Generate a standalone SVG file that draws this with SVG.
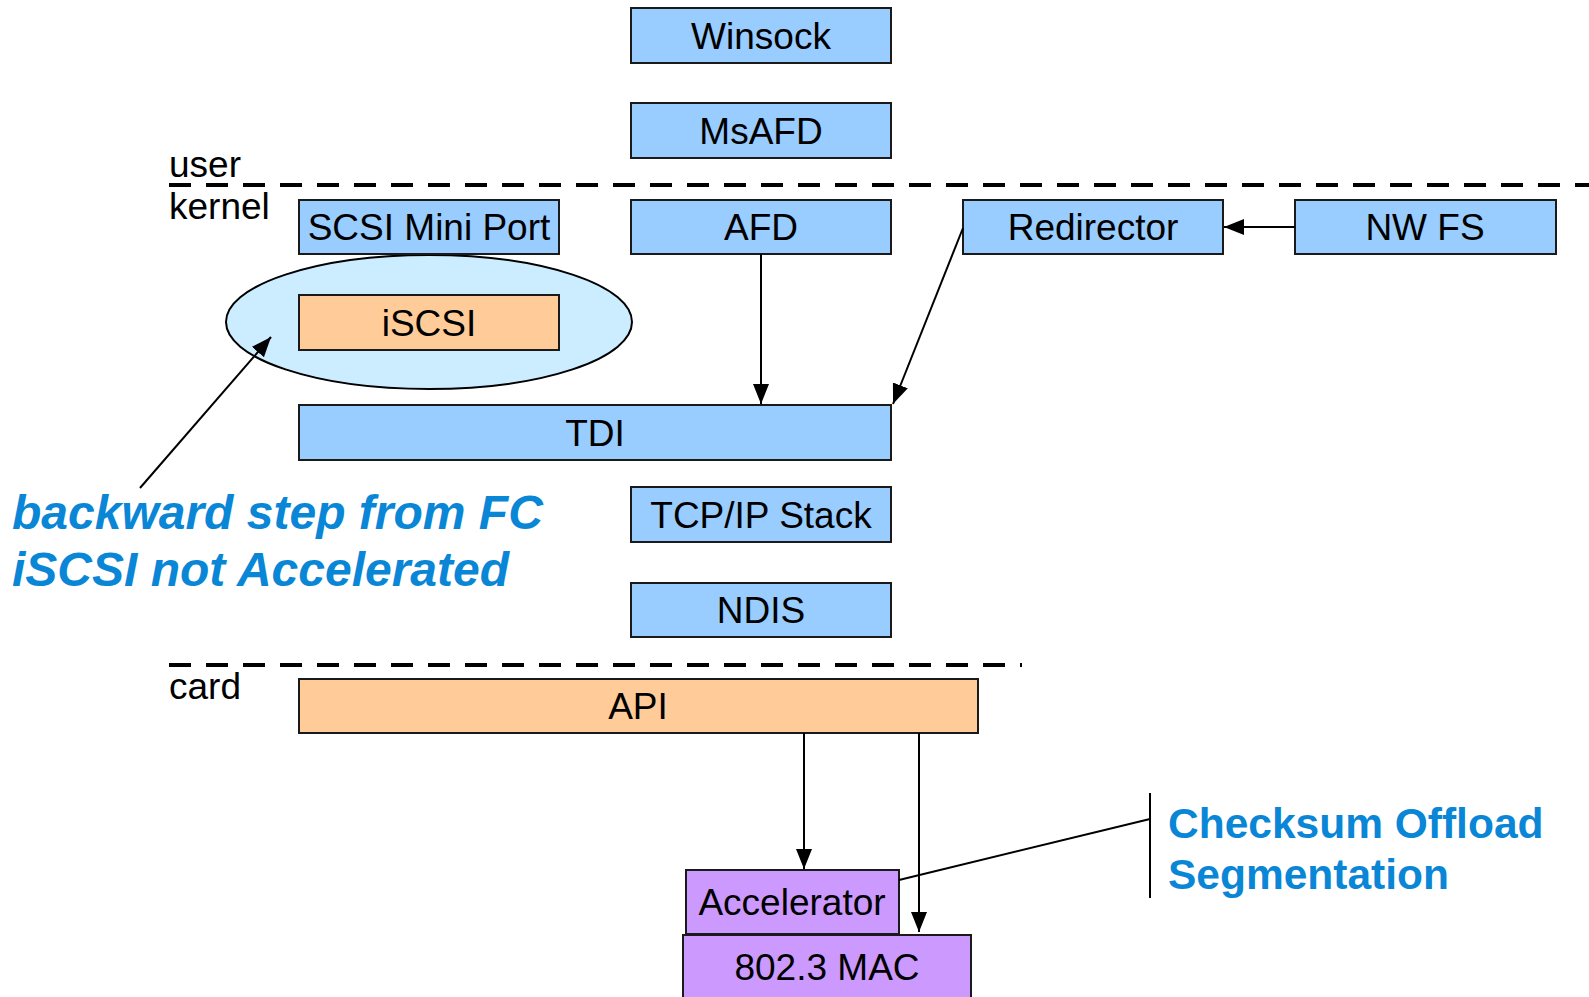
<svg xmlns="http://www.w3.org/2000/svg" width="1589" height="997" viewBox="0 0 1589 997">
<style>
.box{stroke:#1a1a1a;stroke-width:2}
.blue{fill:#99CCFF}
.orange{fill:#FFCC99}
.purple{fill:#CC99FF}
.t{font-family:"Liberation Sans",Arial,sans-serif;font-size:37px;fill:#000}
.c{text-anchor:middle}
.note{font-family:"Liberation Sans",Arial,sans-serif;font-weight:bold;fill:#0A86D6}
.dash{stroke:#000;stroke-width:4;stroke-dasharray:22 15;fill:none}
.conn{stroke:#000;stroke-width:2;fill:none}
</style>
<defs>
<marker id="arr" markerUnits="userSpaceOnUse" markerWidth="22" markerHeight="18" refX="20" refY="8" orient="auto">
<path d="M0,0 L20,8 L0,16 z" fill="#000"/>
</marker>
</defs>
<rect width="1589" height="997" fill="#fff"/>
<g id="layers">
<line class="dash" x1="169" y1="185" x2="1589" y2="185"/>
<line class="dash" x1="169" y1="665" x2="1022" y2="665"/>
<text class="t" x="169" y="177">user</text>
<text class="t" x="169" y="219">kernel</text>
<text class="t" x="169" y="699">card</text>
</g>
<g id="iscsi-group">
<ellipse cx="429" cy="322" rx="203" ry="67" fill="#CCECFF" stroke="#000" stroke-width="2"/>
</g>
<g id="winsock"><rect class="box blue" x="631" y="8" width="260" height="55"/><text class="t c" x="761" y="49">Winsock</text></g>
<g id="msafd"><rect class="box blue" x="631" y="103" width="260" height="55"/><text class="t c" x="761" y="144">MsAFD</text></g>
<g id="scsi"><rect class="box blue" x="299" y="200" width="260" height="54"/><text class="t c" x="429" y="240">SCSI Mini Port</text></g>
<g id="afd"><rect class="box blue" x="631" y="200" width="260" height="54"/><text class="t c" x="761" y="240">AFD</text></g>
<g id="redirector"><rect class="box blue" x="963" y="200" width="260" height="54"/><text class="t c" x="1093" y="240">Redirector</text></g>
<g id="nwfs"><rect class="box blue" x="1295" y="200" width="261" height="54"/><text class="t c" x="1425" y="240">NW FS</text></g>
<g id="iscsi"><rect class="box orange" x="299" y="295" width="260" height="55"/><text class="t c" x="429" y="336">iSCSI</text></g>
<g id="tdi"><rect class="box blue" x="299" y="405" width="592" height="55"/><text class="t c" x="595" y="446">TDI</text></g>
<g id="tcpip"><rect class="box blue" x="631" y="487" width="260" height="55"/><text class="t c" x="761" y="528">TCP/IP Stack</text></g>
<g id="ndis"><rect class="box blue" x="631" y="583" width="260" height="54"/><text class="t c" x="761" y="623">NDIS</text></g>
<g id="api"><rect class="box orange" x="299" y="679" width="679" height="54"/><text class="t c" x="638" y="719">API</text></g>
<g id="mac"><rect class="box purple" x="683" y="935" width="288" height="70"/><text class="t c" x="827" y="980">802.3 MAC</text></g>
<g id="accelerator"><rect class="box purple" x="686" y="870" width="213" height="64"/><text class="t c" x="792" y="915">Accelerator</text></g>
<g id="connectors">
<line class="conn" x1="761" y1="254" x2="761" y2="404" marker-end="url(#arr)"/>
<line class="conn" x1="963" y1="228" x2="893" y2="404" marker-end="url(#arr)"/>
<line class="conn" x1="1295" y1="227" x2="1224" y2="227" marker-end="url(#arr)"/>
<line class="conn" x1="140" y1="488" x2="271" y2="337" marker-end="url(#arr)"/>
<line class="conn" x1="804" y1="733" x2="804" y2="869" marker-end="url(#arr)"/>
<line class="conn" x1="919" y1="733" x2="919" y2="932" marker-end="url(#arr)"/>
<line class="conn" x1="899" y1="880" x2="1150" y2="819"/>
<line class="conn" x1="1150" y1="793" x2="1150" y2="898"/>
</g>
<g id="notes">
<text class="note" x="12" y="529" font-size="48" font-style="italic">backward step from FC</text>
<text class="note" x="12" y="586" font-size="48" font-style="italic">iSCSI not Accelerated</text>
<text class="note" x="1168" y="838" font-size="42.5">Checksum Offload</text>
<text class="note" x="1168" y="889" font-size="42.5">Segmentation</text>
</g>
</svg>
